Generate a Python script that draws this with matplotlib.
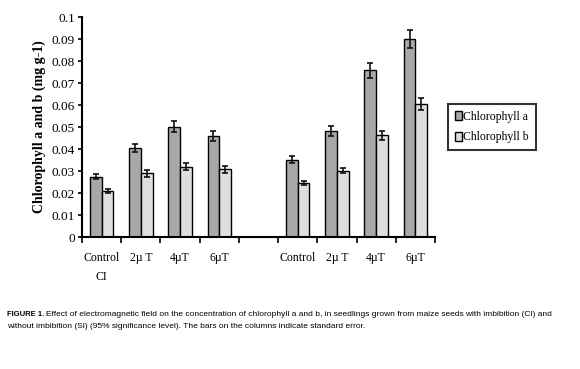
import numpy as np
import matplotlib.pyplot as plt

# Data
groups = ['Control\nCI', '2µ T', '4µT', '6µT', '', 'Control', '2µ T', '4µT', '6µT']
chl_a = [0.0275, 0.0405, 0.0502, 0.0458, np.nan, 0.0352, 0.0483, 0.0757, 0.0899]
chl_b = [0.0210, 0.0290, 0.0320, 0.0307, np.nan, 0.0246, 0.0301, 0.0462, 0.0606]
err_a = [0.0012, 0.0020, 0.0025, 0.0022, np.nan, 0.0015, 0.0022, 0.0036, 0.0042]
err_b = [0.0008, 0.0015, 0.0015, 0.0015, np.nan, 0.0010, 0.0012, 0.0020, 0.0027]
yticks = [0, 0.01, 0.02, 0.03, 0.04, 0.05, 0.06, 0.07, 0.08, 0.09, 0.1]
ytick_labels = ['0', '0.01', '0.02', '0.03', '0.04', '0.05', '0.06', '0.07', '0.08', '0.09', '0.1']

plt.rcParams['font.family'] = ['Liberation Serif', 'DejaVu Serif']

fig = plt.figure(figsize=(5.8, 3.69), dpi=100)
ax = fig.add_axes([0.1414, 0.3577, 0.6086, 0.5962])

x = np.arange(len(groups))
w = 0.3
err_kw = dict(ecolor='#111111', elinewidth=1.2, capsize=2.5, capthick=1.2)
ax.bar(x - w / 2, chl_a, w, yerr=err_a, color='#a8a8a8', edgecolor='black',
       linewidth=1.0, error_kw=err_kw, label='Chlorophyll a')
ax.bar(x + w / 2, chl_b, w, yerr=err_b, color='#dedede', edgecolor='black',
       linewidth=1.0, error_kw=err_kw, label='Chlorophyll b')

ax.set_xlim(-0.5, len(groups) - 0.5)
ax.set_ylim(0, 0.1)
ax.set_yticks(yticks)
ax.set_yticklabels(ytick_labels, fontsize=9.5)
ax.set_xticks(x)
ax.set_xticklabels(groups, fontsize=8.5, linespacing=1.7)
ax.set_xticks(np.arange(-0.5, len(groups)), minor=True)
ax.tick_params(axis='x', which='major', length=0, pad=11)
ax.tick_params(axis='x', which='minor', length=4, width=1.2, direction='out')
ax.tick_params(axis='y', length=3, width=1.2, direction='out', pad=2)
ax.spines['top'].set_visible(False)
ax.spines['right'].set_visible(False)
ax.spines['left'].set_linewidth(1.5)
ax.spines['bottom'].set_linewidth(1.5)
ax.set_ylabel('Chlorophyll a and b (mg g-1)', fontsize=10, fontweight='bold', labelpad=4)

leg = ax.legend(loc='center left', bbox_to_anchor=(1.02, 0.5), fontsize=8.5,
                frameon=True, fancybox=False, edgecolor='black', handlelength=0.6,
                handleheight=0.8, handletextpad=0.1, borderpad=0.6, labelspacing=0.7)
leg.get_frame().set_linewidth(1.5)

cap1 = ('Effect of electromagnetic field on the concentration of chlorophyll a and b, '
        'in seedlings grown from maize seeds with imbibition (CI) and')
cap2 = ('without imbibition (SI) (95% significance level). '
        'The bars on the columns indicate standard error.')
cap_font = 'Liberation Sans'
t = fig.text(0.012, 1 - 315 / 369, 'FIGURE 1.', fontsize=5.5, fontweight='bold',
             family=cap_font, va='center')
fig.canvas.draw()
bb = t.get_window_extent()
fig.text((bb.x1 + 2) / fig.bbox.width, 1 - 315 / 369, cap1, fontsize=6.05,
         family=cap_font, va='center')
fig.text(0.012, 1 - 326 / 369, cap2, fontsize=6.05, family=cap_font, va='center')

fig.savefig('out.png', dpi=100)
